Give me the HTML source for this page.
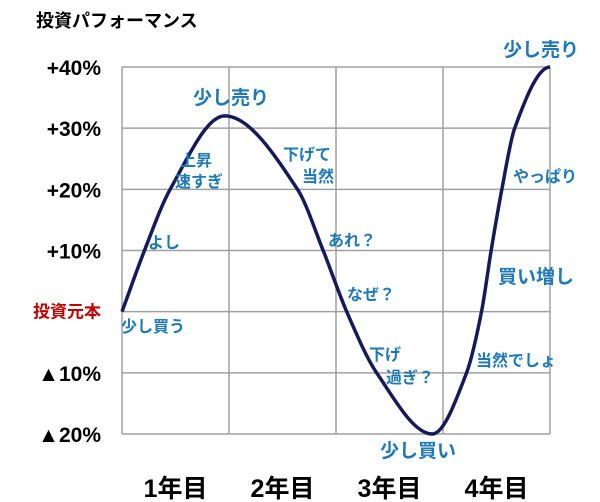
<!DOCTYPE html>
<html><head><meta charset="utf-8"><style>
body{margin:0;background:#fff;}
svg{display:block;font-family:"Liberation Sans","Noto Sans CJK JP",sans-serif;}
.lb{fill:#1f78b8;font-weight:bold;font-size:16px;}
.big{font-size:19px;}
.yt{font-weight:bold;font-size:21px;fill:#000;}
.xt{font-weight:bold;font-size:25px;fill:#000;}
</style></head><body>
<svg id="c" width="600" height="502">
<text x="36" y="27" style="font-size:18px;font-weight:bold">投資パフォーマンス</text>
<g id="grid"></g>
<g id="ylab"></g>
<g id="xlab"></g>
<path id="curve" fill="none" stroke="#141a5a" stroke-width="3.5" stroke-linejoin="round"></path>
<g>
<text class="lb big" x="503" y="56">少し売り</text>
<text class="lb big" x="193" y="104">少し売り</text>
<text class="lb" x="180" y="166">上昇</text>
<text class="lb" x="175" y="187">速すぎ</text>
<text class="lb" x="148" y="248">よし</text>
<text class="lb" x="121" y="332">少し買う</text>
<text class="lb" x="283" y="160">下げて</text>
<text class="lb" x="302" y="182">当然</text>
<text class="lb" x="328" y="246">あれ？</text>
<text class="lb" x="347" y="300">なぜ？</text>
<text class="lb" x="369" y="360">下げ</text>
<text class="lb" x="386" y="383">過ぎ？</text>
<text class="lb big" x="380" y="457">少し買い</text>
<text class="lb" x="476" y="366">当然でしょ</text>
<text class="lb big" x="498" y="283">買い増し</text>
<text class="lb" x="513" y="182">やっぱり</text>
</g>
</svg>
<script>
const yearsX=[0,0.21,0.45,0.96,1.64,1.88,2.1,2.38,2.9,3.22,3.36,3.45,3.55,3.67,4.0];
const values=[0,10,20,32,20,10,0,-10,-20,-10,0,10,20,30,40];
const yTicks=[40,30,20,10,0,-10,-20];
const yTickLabels=["+40%","+30%","+20%","+10%","投資元本","▲10%","▲20%"];
const xTicks=[0,1,2,3,4];
const xLabels=["1年目","2年目","3年目","4年目"];
const L=122,R=550,T=67,B=434;
const sx=v=>L+(R-L)*v/4;
const sy=v=>B-(B-T)*(v+20)/60;
const NS="http://www.w3.org/2000/svg";
const g=document.getElementById('grid'),yl=document.getElementById('ylab'),xl=document.getElementById('xlab');
yTicks.forEach((t,i)=>{
 const l=document.createElementNS(NS,'line');
 l.setAttribute('x1',L);l.setAttribute('x2',R);l.setAttribute('y1',sy(t));l.setAttribute('y2',sy(t));
 l.setAttribute('stroke','#a0a0a0');l.setAttribute('stroke-width','1.5');
 
 
 g.appendChild(l);
 const tx=document.createElementNS(NS,'text');
 tx.setAttribute('x',101);tx.setAttribute('y',sy(t)+8);tx.setAttribute('text-anchor','end');
 tx.setAttribute('class','yt');
 if(t===0){tx.style.fill='#c00000';tx.style.fontSize='17px';tx.setAttribute('y',sy(t)+6);}
 tx.textContent=yTickLabels[i];
 
 
 yl.appendChild(tx);
});
xTicks.forEach(t=>{
 const l=document.createElementNS(NS,'line');
 l.setAttribute('x1',sx(t));l.setAttribute('x2',sx(t));l.setAttribute('y1',T);l.setAttribute('y2',B);
 l.setAttribute('stroke','#a0a0a0');l.setAttribute('stroke-width','1.5');
 
 
 g.appendChild(l);
});
xLabels.forEach((s,i)=>{
 const tx=document.createElementNS(NS,'text');
 tx.setAttribute('x',sx(i+0.5));tx.setAttribute('y',497);tx.setAttribute('text-anchor','middle');
 tx.setAttribute('class','xt');tx.textContent=s;
 
 
 xl.appendChild(tx);
});
// monotone cubic (Fritsch-Carlson) interpolation
const n=yearsX.length;
const dl=[],m=[];
for(let i=0;i<n-1;i++)dl.push((values[i+1]-values[i])/(yearsX[i+1]-yearsX[i]));
m[0]=dl[0];
for(let i=1;i<n-1;i++){
 if(dl[i-1]*dl[i]<=0)m[i]=0;
 else{const w1=2*(yearsX[i+1]-yearsX[i])+(yearsX[i]-yearsX[i-1]),w2=(yearsX[i+1]-yearsX[i])+2*(yearsX[i]-yearsX[i-1]);
  m[i]=(w1+w2)/(w1/dl[i-1]+w2/dl[i]);}
}
m[n-1]=0;
let d='M'+sx(yearsX[0])+','+sy(values[0]);
for(let i=0;i<n-1;i++){
 const h=yearsX[i+1]-yearsX[i];
 const x1=yearsX[i]+h/3,y1=values[i]+m[i]*h/3;
 const x2=yearsX[i+1]-h/3,y2=values[i+1]-m[i+1]*h/3;
 d+=' C'+sx(x1)+','+sy(y1)+' '+sx(x2)+','+sy(y2)+' '+sx(yearsX[i+1])+','+sy(values[i+1]);
}
document.getElementById('curve').setAttribute('d',d);
</script>
</body></html>
